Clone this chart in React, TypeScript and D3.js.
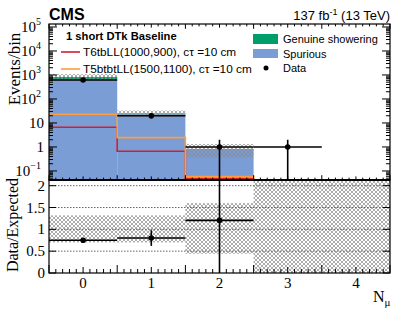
import React from "react";
import * as d3 from "d3";

// N_mu bins
const nmu = [0, 1, 2, 3, 4];
// background stack (events/bin)
const spurious = [680, 23, 0.83, 0, 0];
const genuine = [145, 2, 0, 0, 0];
// observed data (sqrt(N) errors), bin 4 empty
const data = [620, 20, 1, 1, 0];
const hasData = [true, true, true, true, false];
// signal benchmarks
const t6tbLL = [6.6, 0.66, 0.047, 0, 0];
const t5btbtLL = [23, 2.45, 0.058, 0, 0];
// relative uncertainty band on expected
const bandLo = [0.7, 0.7, 0.44, 0, 0];
const bandHi = [1.32, 1.32, 1.6, 3, 3];
// axis ticks
const yTickExp = [-1, 0, 1, 2, 3, 4, 5];
const ratioTicks = [0, 0.5, 1, 1.5, 2];

const W = 407;
const H = 328;
const L = 49;
const R = 390;
const T = 24;
const MID = 180;
const B = 273;

const SERIF = "'Liberation Serif', 'Times New Roman', serif";
const SANS = "'Liberation Sans', Arial, Helvetica, sans-serif";

const BLUE = "#7b9dd6";
const GREEN = "#009e6b";
const RED = "#d0202e";
const ORANGE = "#ff9d3c";

const App = () => {
  const x = d3.scaleLinear().domain([-0.5, 4.5]).range([L, R]);
  const yTop = d3.scaleLog().domain([0.042, 1.33e5]).range([MID, T]);
  const yLow = d3.scaleLinear().domain([0, 2.13]).range([B, MID]);

  const cy = (v: number) => (v <= 0 ? MID : Math.max(T, Math.min(MID, yTop(v))));
  const cr = (v: number) => Math.max(MID, Math.min(B, yLow(Math.max(0, v))));

  const total = nmu.map((_, i) => spurious[i] + genuine[i]);

  // step line for signal histograms
  const stepLine = (vals: number[]) => {
    const pts: [number, number][] = vals.map((v, i) => [x(nmu[i] - 0.5), cy(v)]);
    pts.push([x(4.5), cy(vals[vals.length - 1])]);
    return d3.line().curve(d3.curveStepAfter)(pts) || "";
  };

  // log ticks
  const majorY = yTickExp.map((e) => Math.pow(10, e));
  const minorY: number[] = [];
  d3.range(-2, 6).forEach((e) => {
    d3.range(2, 10).forEach((m) => {
      const v = m * Math.pow(10, e);
      if (v >= 0.042 && v <= 1.33e5) minorY.push(v);
    });
  });

  // x ticks: major at bin edges, medium at integers, minor every 0.1
  const xMinor = d3.range(-5, 46).map((k) => k / 10);
  const xTickLen = (v: number) => {
    const r = Math.round(v * 10);
    if ((r + 5) % 10 === 0) return 8;
    if (r % 10 === 0) return 6;
    return 4;
  };

  const yLabel = (e: number) => {
    if (e === 0) return <>1</>;
    if (e === 1) return <>10</>;
    return (
      <>
        10
        <tspan dy={-7} fontSize={10}>
          {e < 0 ? "\u2212" + Math.abs(e) : e}
        </tspan>
      </>
    );
  };

  return (
    <svg width={W} height={H} style={{ position: "absolute", left: 0, top: 0, background: "#fff" }}>
      <defs>
        <pattern id="hatch" width={4} height={4} patternUnits="userSpaceOnUse">
          <path d="M0,0 L4,4 M4,0 L0,4" stroke="#8a8a8a" strokeWidth={0.7} />
        </pattern>
        <clipPath id="clipTop">
          <rect x={L} y={T} width={R - L} height={MID - T} />
        </clipPath>
        <clipPath id="clipLow">
          <rect x={L} y={MID} width={R - L} height={B - MID} />
        </clipPath>
      </defs>

      {/* ---------- upper panel ---------- */}
      <g clipPath="url(#clipTop)">
        {nmu.map((n, i) =>
          spurious[i] > 0 ? (
            <rect key={"s" + i} x={x(n - 0.5)} width={x(n + 0.5) - x(n - 0.5)} y={cy(spurious[i])} height={MID - cy(spurious[i])} fill={BLUE} />
          ) : null
        )}
        {nmu.map((n, i) =>
          genuine[i] > 0 ? (
            <rect key={"g" + i} x={x(n - 0.5)} width={x(n + 0.5) - x(n - 0.5)} y={cy(total[i])} height={cy(spurious[i]) - cy(total[i])} fill={GREEN} />
          ) : null
        )}
        {nmu.map((n, i) =>
          total[i] > 0 ? (
            <rect key={"h" + i} x={x(n - 0.5)} width={x(n + 0.5) - x(n - 0.5)} y={cy(total[i] * bandHi[i])} height={cy(total[i] * bandLo[i]) - cy(total[i] * bandHi[i])} fill="url(#hatch)" />
          ) : null
        )}
        <path d={stepLine(t6tbLL)} fill="none" stroke={RED} strokeWidth={1.6} />
        <path d={stepLine(t5btbtLL)} fill="none" stroke={ORANGE} strokeWidth={1.6} />
        {nmu.map((n, i) =>
          hasData[i] ? (
            <g key={"d" + i} stroke="#000" strokeWidth={1.6}>
              <line x1={x(n - 0.5)} x2={x(n + 0.5)} y1={cy(data[i])} y2={cy(data[i])} />
              <line x1={x(n)} x2={x(n)} y1={cy(data[i] + Math.sqrt(data[i]))} y2={cy(data[i] - Math.sqrt(data[i]))} />
              <circle cx={x(n)} cy={cy(data[i])} r={2.8} fill="#000" stroke="none" />
            </g>
          ) : null
        )}
      </g>

      {/* upper ticks */}
      <g stroke="#000" strokeWidth={1}>
        {majorY.map((v) => (
          <g key={"my" + v}>
            <line x1={L} x2={L + 8} y1={yTop(v)} y2={yTop(v)} />
            <line x1={R} x2={R - 8} y1={yTop(v)} y2={yTop(v)} />
          </g>
        ))}
        {minorY.map((v) => (
          <g key={"ny" + v}>
            <line x1={L} x2={L + 4} y1={yTop(v)} y2={yTop(v)} />
            <line x1={R} x2={R - 4} y1={yTop(v)} y2={yTop(v)} />
          </g>
        ))}
        {xMinor.map((v) => (
          <g key={"ux" + v}>
            <line x1={x(v)} x2={x(v)} y1={T} y2={T + xTickLen(v) * 0.6} />
            <line x1={x(v)} x2={x(v)} y1={MID} y2={MID - xTickLen(v) * 0.6} />
          </g>
        ))}
      </g>
      <rect x={L} y={T} width={R - L} height={MID - T} fill="none" stroke="#000" strokeWidth={1.2} />

      {/* upper y labels */}
      <g fontFamily={SERIF} fontSize={15} textAnchor="end">
        {yTickExp.map((e) => (
          <text key={"yl" + e} x={e > 1 || e < 0 ? 41 : 44} y={yTop(Math.pow(10, e)) + 5}>
            {yLabel(e)}
          </text>
        ))}
      </g>
      <text transform="translate(20,69) rotate(-90)" textAnchor="middle" fontFamily={SERIF} fontSize={17}>
        Events/bin
      </text>

      {/* ---------- lower panel ---------- */}
      <g clipPath="url(#clipLow)">
        {nmu.map((n, i) => (
          <rect key={"rb" + i} x={x(n - 0.5)} width={x(n + 0.5) - x(n - 0.5)} y={cr(bandHi[i])} height={cr(bandLo[i]) - cr(bandHi[i])} fill="url(#hatch)" />
        ))}
        {ratioTicks.slice(1).map((v) => (
          <line key={"gr" + v} x1={L} x2={R} y1={yLow(v)} y2={yLow(v)} stroke="#666" strokeWidth={1} strokeDasharray="1.5,1.5" />
        ))}
        {nmu.map((n, i) => {
          if (!hasData[i] || total[i] <= 0) return null;
          const r = data[i] / total[i];
          const e = Math.sqrt(data[i]) / total[i];
          return (
            <g key={"rd" + i} stroke="#000" strokeWidth={1.6}>
              <line x1={x(n - 0.5)} x2={x(n + 0.5)} y1={cr(r)} y2={cr(r)} />
              <line x1={x(n)} x2={x(n)} y1={cr(r + e)} y2={cr(r - e)} />
              <circle cx={x(n)} cy={cr(r)} r={2.8} fill="#000" stroke="none" />
            </g>
          );
        })}
      </g>
      <g stroke="#000" strokeWidth={1}>
        {ratioTicks.map((v) => (
          <g key={"rt" + v}>
            <line x1={L} x2={L + 7} y1={yLow(v)} y2={yLow(v)} />
            <line x1={R} x2={R - 7} y1={yLow(v)} y2={yLow(v)} />
          </g>
        ))}
        {xMinor.map((v) => (
          <line key={"lx" + v} x1={x(v)} x2={x(v)} y1={B} y2={B - xTickLen(v)} />
        ))}
      </g>
      <rect x={L} y={MID} width={R - L} height={B - MID} fill="none" stroke="#000" strokeWidth={1.2} />
      <line x1={L} x2={R} y1={MID} y2={MID} stroke="#000" strokeWidth={2} />

      <g fontFamily={SERIF} fontSize={15} textAnchor="end">
        {ratioTicks.map((v) => (
          <text key={"rl" + v} x={45} y={yLow(v) + 5}>
            {v}
          </text>
        ))}
      </g>
      <g fontFamily={SERIF} fontSize={15} textAnchor="middle">
        {nmu.map((n) => (
          <text key={"xl" + n} x={x(n)} y={288}>
            {n}
          </text>
        ))}
      </g>
      <text transform="translate(18,225) rotate(-90)" textAnchor="middle" fontFamily={SERIF} fontSize={16}>
        Data/Expected
      </text>
      <text x={373} y={302} fontFamily={SERIF} fontSize={16}>
        N
        <tspan dy={4} fontSize={11}>
          μ
        </tspan>
      </text>

      {/* ---------- header ---------- */}
      <text x={49} y={20} fontFamily={SANS} fontWeight="bold" fontSize={16}>
        CMS
      </text>
      <text x={390} y={20} fontFamily={SANS} fontSize={13} textAnchor="end">
        137 fb
        <tspan dy={-5} fontSize={9}>
          -1
        </tspan>
        <tspan dy={5}> (13 TeV)</tspan>
      </text>

      {/* ---------- legend ---------- */}
      <g fontFamily={SANS} fontSize={11.8}>
        <text x={66} y={40} fontWeight="bold" fontSize={11.2}>
          1 short DTk Baseline
        </text>
        <line x1={61} x2={80} y1={52} y2={52} stroke={RED} strokeWidth={1.6} />
        <text x={83} y={56}>
          T6tbLL(1000,900), cτ =10 cm
        </text>
        <line x1={61} x2={80} y1={69} y2={69} stroke={ORANGE} strokeWidth={1.6} />
        <text x={83} y={73}>
          T5btbtLL(1500,1100), cτ =10 cm
        </text>
      </g>
      <g fontFamily={SANS} fontSize={11}>
        <rect x={253} y={34} width={25} height={10} fill={GREEN} />
        <text x={283} y={43}>
          Genuine showering
        </text>
        <rect x={253} y={49} width={25} height={9} fill={BLUE} />
        <text x={283} y={58}>
          Spurious
        </text>
        <circle cx={266} cy={68} r={2.5} fill="#000" />
        <text x={283} y={72}>
          Data
        </text>
      </g>
    </svg>
  );
};

export default App;
